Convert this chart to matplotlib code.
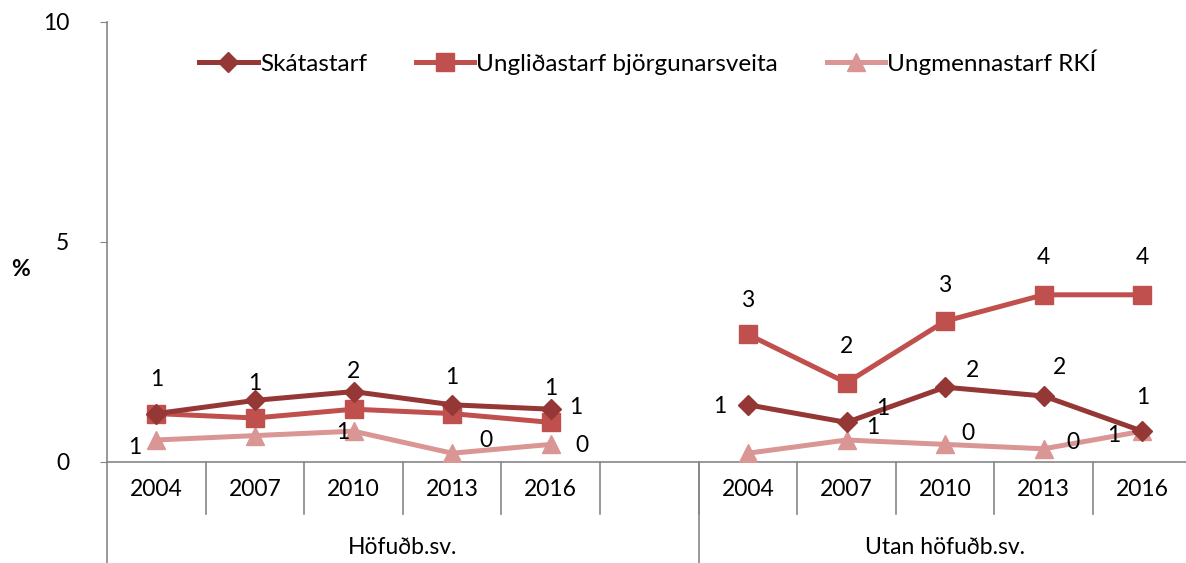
import matplotlib
matplotlib.use('Agg')
from matplotlib import pyplot as plt
from matplotlib.transforms import blended_transform_factory
import numpy as np

plt.rcParams['font.family'] = ['Lato', 'DejaVu Sans']

years = ['2004', '2007', '2010', '2013', '2016']
groups = ['Höfuðb.sv.', 'Utan höfuðb.sv.']
series = ['Skátastarf', 'Ungliðastarf björgunarsveita', 'Ungmennastarf RKÍ']

skata_h = [1.1, 1.4, 1.6, 1.3, 1.2]
skata_u = [1.3, 0.9, 1.7, 1.5, 0.7]
ungli_h = [1.1, 1.0, 1.2, 1.1, 0.9]
ungli_u = [2.9, 1.8, 3.2, 3.8, 3.8]
ungm_h = [0.5, 0.6, 0.7, 0.2, 0.4]
ungm_u = [0.2, 0.5, 0.4, 0.3, 0.7]

colors = ['#953735', '#C0504D', '#D99694']
markers = ['D', 's', '^']
msizes = [10, 13, 13]
FS = 16.5

# label offsets in pixels (dx, dy), None = no label
offs = {
    0: [(0, 34), (0, 17), (0, 20), (0, 27), (0, 21),
        (-28, -2), (36, 14), (27, 17), (16, 29), (0, 34)],
    1: [None, None, None, None, (25, 15),
        (0, 34), (0, 36), (0, 36), (0, 37), (0, 37)],
    2: [(-22, -8), None, (-11, -1), (34, 13), (31, -1),
        None, (26, 13), (23, 11), (29, 6), (-29, -4)],
}

fig = plt.figure(figsize=(11.86, 5.63), dpi=100)
ax = fig.add_axes([107/1186, 101/563, 1084.6/1186, 440/563])

xh = np.arange(5)
xu = np.arange(6, 11)
data = [(skata_h, skata_u), (ungli_h, ungli_u), (ungm_h, ungm_u)]
for k, (h, u) in enumerate(data):
    for j, (xs, vals) in enumerate(((xh, h), (xu, u))):
        ax.plot(xs, vals, '-', color=colors[k], lw=3.6, marker=markers[k],
                ms=msizes[k], label=series[k] if j == 0 else None, zorder=3 + (2 - k))
        for i, (x, v) in enumerate(zip(xs, vals)):
            o = offs[k][i + 5 * j]
            if o is None:
                continue
            ax.annotate(f'{int(v + 0.5)}', (x, v), xytext=o, textcoords='offset pixels',
                        ha='center', va='center', fontsize=FS, zorder=10)

ax.set_xlim(-0.5, 10.5)
ax.set_ylim(0, 10)
ax.set_yticks([0, 5, 10])
ax.tick_params(axis='y', length=5, color='#868686', labelsize=FS, pad=22)
ax.tick_params(axis='x', bottom=False, labelbottom=False)
for s in ['top', 'right']:
    ax.spines[s].set_visible(False)
ax.spines['left'].set_visible(False)
ax.spines['bottom'].set_color('#868686')
ax.spines['bottom'].set_linewidth(1.2)

tr = blended_transform_factory(ax.transData, ax.transAxes)
gray = '#868686'
# left axis line down to bottom of figure
ax.plot([-0.5, -0.5], [1, -101/440], color=gray, lw=1.2, transform=tr, clip_on=False)
for b in np.arange(0.5, 10.5, 1):
    ax.plot([b, b], [0, -52/440], color=gray, lw=1.2, transform=tr, clip_on=False)
ax.plot([5.5, 5.5], [0, -101/440], color=gray, lw=1.2, transform=tr, clip_on=False)

for xs in (xh, xu):
    for x, y in zip(xs, years):
        ax.text(x, -28/440, y, transform=tr, ha='center', va='center', fontsize=FS)
ax.text(2.5, -86/440, groups[0], transform=tr, ha='center', va='center', fontsize=FS)
ax.text(8, -86/440, groups[1], transform=tr, ha='center', va='center', fontsize=FS)

fig.text(20/1186, (563-270)/563, '%', ha='center', va='center', fontsize=FS, fontweight='bold')

ax.legend(loc='center', bbox_to_anchor=(648/1186, (563-62)/563), bbox_transform=fig.transFigure,
          ncol=3, frameon=False, fontsize=17.5, handlelength=2.4, columnspacing=2.0,
          handletextpad=0.1)

fig.savefig('out.png', dpi=100)
